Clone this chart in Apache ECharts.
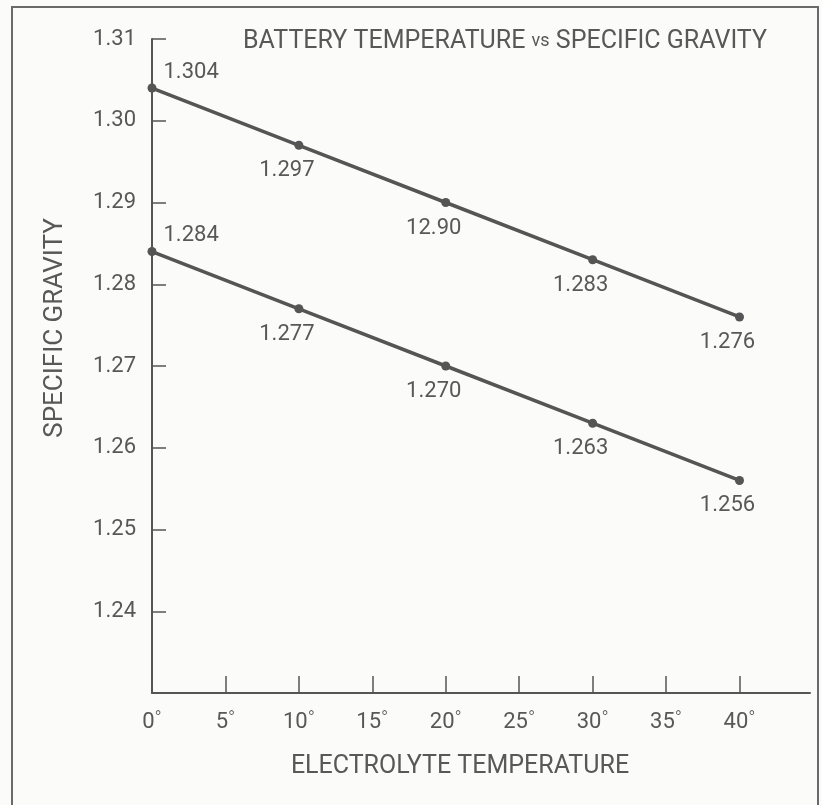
<!DOCTYPE html>
<html>
<head>
<meta charset="utf-8">
<style>
  html, body { margin: 0; padding: 0; background: #fbfbfa; }
  #chart { width: 822px; height: 805px; }
</style>
<script src="https://cdn.jsdelivr.net/npm/echarts@6/dist/echarts.min.js"></script>
</head>
<body>
<div id="chart"></div>
<script>
// Electrolyte temperature (°) against specific gravity, two charge states
const temps = [0, 10, 20, 30, 40];
const upperGravity = [1.304, 1.297, 1.290, 1.283, 1.276];
const lowerGravity = [1.284, 1.277, 1.270, 1.263, 1.256];
// printed point labels (the 20° upper label is printed as "12.90")
const upperLabels = ['1.304', '1.297', '12.90', '1.283', '1.276'];
const lowerLabels = ['1.284', '1.277', '1.270', '1.263', '1.256'];
const xTickValues = [0, 5, 10, 15, 20, 25, 30, 35, 40];
const yTickValues = [1.24, 1.25, 1.26, 1.27, 1.28, 1.29, 1.30, 1.31];

const FONT = 'Roboto, "Liberation Sans", sans-serif';
const WEIGHT = 400;
const INK = '#585858';
const LINE = '#555555';

function buildPoints(xs, ys, labels) {
  return xs.map((x, i) => {
    const item = { value: [x, ys[i]], label: { formatter: labels[i] } };
    if (i === 0) {
      item.label.position = 'right';
      item.label.distance = 7;
      item.label.offset = [0, -16];
    }
    return item;
  });
}

const seriesLabel = {
  show: true,
  position: 'bottom',
  distance: 10,
  offset: [-12, 0],
  color: INK,
  fontFamily: FONT,
  fontWeight: WEIGHT,
  fontSize: 22
};

const chart = echarts.init(document.getElementById('chart'), null, { renderer: 'canvas' });

chart.setOption({
  backgroundColor: '#fbfbfa',
  animation: false,
  title: {
    text: '{a|BATTERY TEMPERATURE }{b|vs}{a| SPECIFIC GRAVITY}',
    left: 238,
    top: 24,
    textStyle: {
      rich: {
        a: { fontFamily: FONT, fontWeight: WEIGHT, fontSize: 25, color: INK },
        b: { fontFamily: FONT, fontWeight: WEIGHT, fontSize: 18, color: INK }
      }
    }
  },
  grid: { left: 152, right: 12, top: 39, bottom: 112 },
  xAxis: {
    type: 'value',
    min: 0,
    max: 44.8,
    name: 'ELECTROLYTE TEMPERATURE',
    nameLocation: 'middle',
    nameGap: 61,
    nameTextStyle: {
      fontFamily: FONT, fontWeight: WEIGHT, fontSize: 25, color: INK,
      padding: [0, 42, 0, 0]
    },
    axisLine: { show: true, lineStyle: { color: LINE, width: 2 } },
    axisTick: {
      show: true, inside: true, length: 17,
      customValues: xTickValues,
      lineStyle: { color: LINE, width: 1.5 }
    },
    axisLabel: {
      customValues: xTickValues,
      margin: 17,
      formatter: v => '{n|' + v + '}{d|°}',
      rich: {
        n: { fontFamily: FONT, fontWeight: WEIGHT, fontSize: 22, color: INK },
        d: { fontFamily: FONT, fontWeight: 300, fontSize: 19, color: INK, verticalAlign: 'top', padding: [0, 0, 6, 0] }
      }
    },
    splitLine: { show: false }
  },
  yAxis: {
    type: 'value',
    min: 1.23,
    max: 1.31,
    name: 'SPECIFIC GRAVITY',
    nameLocation: 'middle',
    nameGap: 84,
    nameRotate: 90,
    nameTextStyle: {
      fontFamily: FONT, fontWeight: WEIGHT, fontSize: 26, color: INK,
      padding: [0, 0, 0, 76]
    },
    axisLine: { show: true, lineStyle: { color: LINE, width: 2 } },
    axisTick: {
      show: true, inside: true, length: 14,
      customValues: yTickValues,
      lineStyle: { color: LINE, width: 1.5 }
    },
    axisLabel: {
      customValues: yTickValues,
      margin: 16,
      formatter: v => v.toFixed(2),
      fontFamily: FONT, fontWeight: WEIGHT, fontSize: 22, color: INK
    },
    splitLine: { show: false }
  },
  series: [
    {
      type: 'line',
      data: buildPoints(temps, upperGravity, upperLabels),
      symbol: 'circle',
      symbolSize: 9,
      lineStyle: { color: LINE, width: 3.5 },
      itemStyle: { color: LINE },
      label: seriesLabel
    },
    {
      type: 'line',
      data: buildPoints(temps, lowerGravity, lowerLabels),
      symbol: 'circle',
      symbolSize: 9,
      lineStyle: { color: LINE, width: 3.5 },
      itemStyle: { color: LINE },
      label: seriesLabel
    }
  ],
  graphic: [
    {
      type: 'rect',
      silent: true,
      shape: { x: 12, y: 7, width: 806, height: 830 },
      style: { fill: null, stroke: '#6a6a6a', lineWidth: 2 }
    }
  ]
});
</script>
</body>
</html>
